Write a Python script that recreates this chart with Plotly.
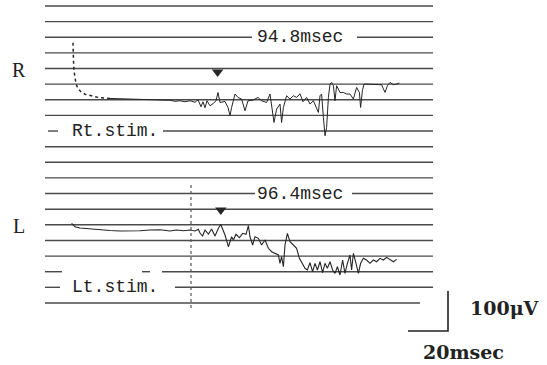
import plotly.graph_objects as go

# ---------------- data (ms, µV relative to each trace's baseline) ----------------
R_DOT_MS = [22.5, 22.5, 22.75, 23, 23.5, 24, 25, 26.5, 28.5, 31, 33.5, 36, 41]
R_DOT_UV = [142.5, 122.5, 97.5, 72.5, 52.5, 40, 27.5, 20, 13.8, 10, 7.5, 5, 3.3]

R_MS = [41, 46, 51, 56, 61, 66, 71, 73.5, 76, 78.5, 81, 83.5, 85, 86.5, 87.5, 88.5, 89.5,
        91, 92.5, 94, 95, 96, 98.5, 100, 101, 101.8, 103.5, 105, 106.8, 108.5, 110, 112.5,
        115, 116.8, 119.3, 121, 121.8, 123, 124.3, 126, 126.8, 127.7, 129.3, 131, 132.7,
        134.3, 136, 137.5, 139.3, 141, 142.7, 144.3, 145.2, 146, 146.8, 147.7, 148.5,
        149.3, 150.2, 151, 151.8, 152.7, 153.5, 154.3, 156, 157.7, 159.3, 161, 162.7,
        164.3, 165.7, 166.3, 167.2, 168, 169.3, 171.8, 174.3, 176.8, 178.5, 179.7, 181,
        182.7, 184.3, 185.7]
R_UV = [3.3, 2.5, 1.3, 0.8, 0, 0, -1.3, -3.8, -2.5, -5, -2.5, -6.3, 0, -17.5, -5, -20, -2.5,
        -15, -10, -2.5, 18, -6.8, -4.3, -19.3, -40, -19.3, 14.3, 5.8, 1.8, -27.5, -2.5, -0.8,
        5.8, -2.5, -6.8, 14.3, -15, -56.8, -23.3, -10.8, -56.8, -19.3, 10, 1.8, 10,
        5.8, 15, -5, 5.8, -10.8, -2.5, -19.3, -31.8, 10, 14.3, -44.3, -90,
        -69.3, 5.8, 39.3, 43.3, 35, -2.5, 35, 18.3, 18.3, 14.3, 14.3, 1.8,
        30.8, 18.3, -19.3, 22.5, 39.3, 39.3, 37.5, 39.3, 37.5, 18.3, 35, 43.3,
        37.5, 39.3, 41.8]

L_MS = [21.8, 23.5, 26, 31, 36, 41, 46, 51, 56, 61, 66, 71, 74.3, 77.7, 81, 83.5, 85.2, 86,
        87.3, 88.5, 90.2, 91.8, 93.5, 95.2, 96.4, 98.5, 100.2, 101.8, 102.7, 104, 105.7,
        107.3, 109, 110.2, 111, 112.3, 113.5, 115.2, 116.8, 118.5, 120.2, 121.8, 123.5,
        125.2, 126, 126.8, 127.7, 128.5, 129.7, 131, 132.7, 134.3, 135.7, 136.8, 138.5,
        139.7, 141, 142.3, 143.5, 144.7, 146, 147.3, 148.5, 149.7, 151, 152.3, 153.5,
        154.7, 156, 157.3, 158.5, 159.7, 161, 161.8, 162.7, 164, 165.2, 166.3, 167.7,
        169.3, 171, 172.7, 174.3, 176, 177.7, 179.3, 181, 182.7, 184.3]
L_UV = [14.3, 5.8, 2.5, 0, -2.5, -3.8, -5, -5, -4.3, -2.5, -1.8, -5, -2.5, -4.3, -2.5, -5, -0.8, -10,
        -17.5, -2.5, -12.5, 0, -17.5, 1.8, 11.3, -15, -44.3, -19.3, -27.5, -13.3, -21.8,
        -10.8, -13.3, 8.3, -19.3, -40, -19.3, -23.3, -40, -27.5, -48.3, -56.8, -60.8,
        -65, -85.8, -69.3, -94.3, -40, -10.8, -31.8, -40, -48.3, -73.3, -82.5, -98.3,
        -102.5, -84.3, -106.8, -85.8, -102.5, -81.8, -109.3, -85.8, -98.3, -81.8, -102.5, -110.8,
        -94.3, -115, -77.5, -110.8, -85.8, -65, -102.5, -60.8, -85.8, -110.8, -85.8, -73.3,
        -77.5, -85.8, -77.5, -81.8, -73.3, -77.5, -70.8, -75.8, -81.8, -75.8]

LATENCY_MS = [94.8, 96.4]
LATENCY_LABELS = ["94.8msec", "96.4msec"]
SIDE_LABELS = ["R", "L"]
STIM_LABELS = ["Rt.stim.", "Lt.stim."]
SCALE_MS = 20
SCALE_UV = 100
LEFT_STIM_MARK_MS = 81.5

# ---------------- layout helpers (display positions) ----------------
R_BASE = 663.1
L_BASE = 340.0
GRID_Y = [897.5, 858.4, 819.4, 780.3, 741.2, 702.1, 663.1, 624.0, 584.9, 545.8,
          506.8, 467.7, 428.6, 389.5, 350.5, 311.4, 272.3, 233.2, 194.2, 155.1]
GRID_X0, GRID_X1 = 8.5, 202.5
GRID_SEGMENTS = {
    2: [(8.5, 112.0), (164.5, 202.5)],
    8: [(10.0, 15.0), (67.5, 202.5)],
    12: [(8.5, 113.5), (162.0, 202.5)],
    17: [(8.5, 17.0), (57.0, 61.0), (67.0, 202.5)],
    18: [(8.5, 16.0), (73.5, 202.5)],
    19: [(8.5, 196.0)],
}

GRID_COLOR = "#4a4a4a"
INK = "#262626"

fig = go.Figure()

shapes = []
for i, gy in enumerate(GRID_Y):
    for (a, b) in GRID_SEGMENTS.get(i, [(GRID_X0, GRID_X1)]):
        shapes.append(dict(type="line", xref="x", yref="y", x0=a, x1=b, y0=gy, y1=gy,
                           line=dict(color=GRID_COLOR, width=1.4), layer="below"))

shapes.append(dict(type="line", xref="x", yref="y", x0=LEFT_STIM_MARK_MS, x1=LEFT_STIM_MARK_MS,
                   y0=142.5, y1=455, line=dict(color="#555555", width=1.2, dash="dot")))
fig.update_layout(shapes=shapes)

fig.add_trace(go.Scatter(x=R_DOT_MS, y=[v + R_BASE for v in R_DOT_UV], mode="lines",
                         line=dict(color=INK, width=1.5, dash="dot"), hoverinfo="skip"))
fig.add_trace(go.Scatter(x=R_MS, y=[v + R_BASE for v in R_UV], mode="lines",
                         line=dict(color=INK, width=1.0), hoverinfo="skip"))
fig.add_trace(go.Scatter(x=L_MS, y=[v + L_BASE for v in L_UV], mode="lines",
                         line=dict(color=INK, width=1.1), hoverinfo="skip"))

ARROW_Y = [732.5, 387.5]
fig.add_trace(go.Scatter(x=LATENCY_MS, y=ARROW_Y, mode="markers",
                         marker=dict(symbol="triangle-down", size=10, color=INK),
                         hoverinfo="skip"))

SB_X, SB_Y = 210.0, 85.0
fig.add_trace(go.Scatter(x=[SB_X - SCALE_MS, SB_X, SB_X], y=[SB_Y, SB_Y, SB_Y + SCALE_UV],
                         mode="lines", line=dict(color="#222222", width=1.6), hoverinfo="skip"))

mono = dict(family="Liberation Mono, Courier New, monospace", size=18, color="#222222")
serif = dict(family="Liberation Serif, Times New Roman, serif", size=20, color="#222222")
bold_serif = dict(family="DejaVu Serif, serif", size=19, color="#222222", weight="bold")

ann = []
for lab, y in zip(SIDE_LABELS, [737.5, 347.5]):
    ann.append(dict(x=-4.5, y=y, text=lab, font=serif))
for lab, y in zip(LATENCY_LABELS, [GRID_Y[2], GRID_Y[12]]):
    ann.append(dict(x=136.0, y=y, text=lab, font=mono))
for lab, y in zip(STIM_LABELS, [GRID_Y[8], GRID_Y[18]]):
    ann.append(dict(x=43.25, y=y, text=lab, font=mono))
ann.append(dict(x=238.5, y=142.5, text=f"{SCALE_UV}\u03bcV", font=bold_serif))
ann.append(dict(x=217.5, y=32.5, text=f"{SCALE_MS}msec", font=bold_serif))

for a in ann:
    a.update(xref="x", yref="y", showarrow=False, xanchor="center", yanchor="middle")

fig.update_layout(
    annotations=ann,
    width=547, height=365,
    margin=dict(l=0, r=0, t=0, b=0),
    paper_bgcolor="white", plot_bgcolor="white",
    showlegend=False,
    xaxis=dict(range=[-14, 259.5], visible=False, fixedrange=True),
    yaxis=dict(range=[0, 912.5], visible=False, fixedrange=True),
)

fig.write_html("out.html")
